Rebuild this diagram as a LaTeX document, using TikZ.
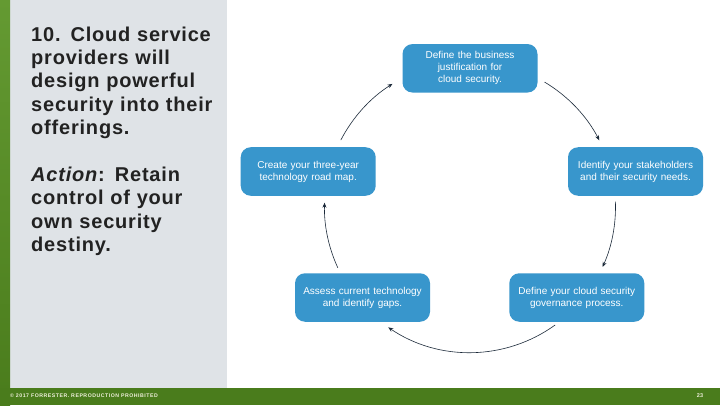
\documentclass[tikz,border=0pt]{standalone}
\usepackage{fontspec}
\setmainfont{Liberation Sans}
\newfontfamily\headfont[LetterSpace=4]{Liberation Sans}
\newfontfamily\footfont[LetterSpace=10]{Liberation Sans}
\usetikzlibrary{arrows.meta}
\definecolor{boxblue}{RGB}{56,150,204}
\definecolor{panelgray}{RGB}{223,227,231}
\definecolor{greentop}{RGB}{100,154,50}
\definecolor{greenbot}{RGB}{74,124,28}
\definecolor{arrowc}{RGB}{28,42,58}
\definecolor{headc}{RGB}{34,34,34}
\definecolor{footc}{RGB}{240,240,220}
\tikzset{
  stepbox/.style={draw=none, fill=boxblue, rounded corners=10pt, minimum width=135pt,
    minimum height=48.5pt, text width=125pt, align=center, text=white, inner sep=0pt,
    font=\fontsize{10}{12}\selectfont},
  cyc/.style={draw=arrowc, line width=0.6pt, -{Stealth[length=5pt,width=4pt]}},
}
\begin{document}
\begin{tikzpicture}[x=1pt,y=1pt]
\useasboundingbox (0,0) rectangle (720,405);
% background
\fill[white] (0,0) rectangle (720,405);
\fill[panelgray] (10,17) rectangle (227,405);
\shade[top color=greentop, bottom color=greenbot] (0,0) rectangle (10,405);
\fill[greenbot] (0,0) rectangle (720,17);
% heading text
\node[anchor=north west, inner sep=0pt, text width=200pt, align=left, text=headc,
  font=\headfont\bfseries\fontsize{20}{23.4}\selectfont] (head) at (31,378.6)
  {10. Cloud service\\providers will\\design powerful\\security into their\\offerings.\\[23.4pt]
   \textit{Action}: Retain\\control of your\\own security\\destiny.};
% footer
\node[anchor=west, inner sep=0pt, text=footc, font=\footfont\bfseries\fontsize{5.2}{6}\selectfont] (foot) at (10,9)
  {© 2017 FORRESTER. REPRODUCTION PROHIBITED};
\node[inner sep=0pt, text=footc, font=\bfseries\fontsize{5.5}{6}\selectfont] (pnum) at (700,9) {23};
% boxes
\node[stepbox] (top) at (470,336.7) {Define the business\\justification for\\cloud security.};
\node[stepbox] (right) at (635.5,233.5) {Identify your stakeholders\\and their security needs.};
\node[stepbox] (br) at (576.8,107.5) {Define your cloud security\\governance process.};
\node[stepbox] (bl) at (362.5,107.5) {Assess current technology\\and identify gaps.};
\node[stepbox] (left) at (308.2,233.5) {Create your three-year\\technology road map.};
% cycle arrows
\coordinate (c) at (470,198);
\coordinate (a1) at ([shift={(152.6:145.5)}]c);
\coordinate (a2) at ([shift={(59.2:145.5)}]c);
\coordinate (a3) at ([shift={(2.1:145.5)}]c);
\coordinate (a4) at ([shift={(-54.2:145.5)}]c);
\coordinate (a5) at ([shift={(204.7:145.5)}]c);
\draw[cyc] (a1) arc[start angle=152.6, end angle=122.2, radius=145.5];
\draw[cyc] (a2) arc[start angle=59.2, end angle=27.3, radius=145.5];
\draw[cyc] (a3) arc[start angle=2.1, end angle=-24.3, radius=145.5];
\draw[cyc] (a4) arc[start angle=-54.2, end angle=-124.2, radius=145.5];
\draw[cyc] (a5) arc[start angle=204.7, end angle=178.3, radius=145.5];
\end{tikzpicture}
\end{document}
